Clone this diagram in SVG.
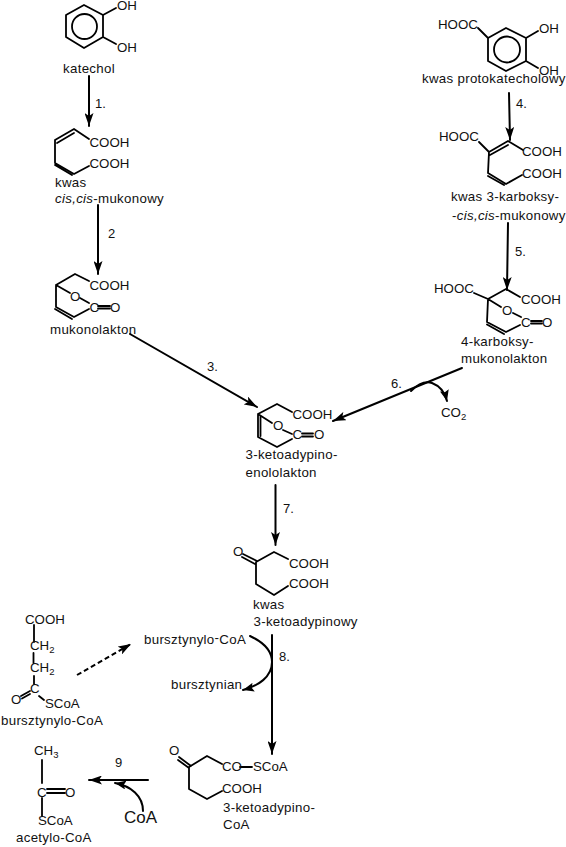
<svg xmlns="http://www.w3.org/2000/svg" width="566" height="847" viewBox="0 0 566 847">
<style>
text{font-family:"Liberation Sans",Arial,Helvetica,sans-serif;font-size:13.3px;fill:#111}
.l{letter-spacing:.3px}
.n{font-size:13px}
.s{font-size:9.5px}
.b{fill:none;stroke:#000;stroke-width:1.8;stroke-linecap:round;stroke-linejoin:round}
.a{fill:none;stroke:#000;stroke-width:2;stroke-linecap:round}
.d{stroke-dasharray:5 3;stroke-linecap:butt}
</style>
<defs>
<marker id="h" markerUnits="userSpaceOnUse" markerWidth="14" markerHeight="9" refX="13" refY="4.500" orient="auto" viewBox="0 0 14 9"><path d="M0,0L13,4.500L0,9L3,4.500Z" fill="#000"/></marker>
<marker id="t" markerUnits="userSpaceOnUse" markerWidth="12" markerHeight="9" refX="11" refY="4.500" orient="auto" viewBox="0 0 12 9"><path d="M0,0L11,4.500L0,9L2,4.500Z" fill="#000"/></marker>
</defs>
<g id="katechol">
<path class="b" d="M84,5L103,15V37L84,48L66,37V15ZM103,15L116,8M103,37L116,44"/><circle class="b" cx="84.500" cy="26.500" r="12.500"/>
<text x="117" y="9.700">OH</text><text x="117" y="52">OH</text><text class="l" x="63" y="73">katechol</text>
</g>
<g id="mukonowy">
<path class="b" d="M55,140L74,129L89,139M57,143L74,133M55,140V163L74,174L89,166M55,165L72,175"/>
<text x="89.500" y="147">COOH</text><text x="89.500" y="168">COOH</text>
<text class="l" x="55" y="187">kwas</text><text class="l" x="55" y="203"><tspan font-style="italic">cis,cis</tspan>-mukonowy</text>
</g>
<g id="mukonolakton">
<path class="b" d="M89,281L75,274L56,285V307L74,317L89,309M55,309L72,319M56,285L70,293M80,298L89,303M98,306H110M98,308.500H110"/>
<text x="89.500" y="290">COOH</text><text x="70" y="301">O</text><text x="89.500" y="312">C</text><text x="110" y="312">O</text>
<text class="l" x="50" y="334">mukonolakton</text>
</g>
<g id="protokatechowy">
<path class="b" d="M506,28L526,38V61L506,71L488,61V38ZM478,28L488,38M526,38L538,31M526,61L538,68"/><circle class="b" cx="507" cy="49.500" r="13"/>
<text x="438" y="29">HOOC</text><text x="539" y="33">OH</text><text x="539" y="75">OH</text>
<text class="l" x="422" y="83">kwas protokatecholowy</text>
</g>
<g id="karboksymukonowy">
<path class="b" d="M479,142L489,152L508,141L523,150M490,155L508,145M489,152L488,173L506,184L522,175M488,176L504,185"/>
<text x="439" y="141">HOOC</text><text x="522" y="156">COOH</text><text x="522" y="178">COOH</text>
<text class="l" x="451" y="201">kwas 3-karboksy-</text><text class="l" x="452" y="220">-<tspan font-style="italic">cis,cis</tspan>-mukonowy</text>
</g>
<g id="karboksymukonolakton">
<path class="b" d="M474,293L488,299L506,289L520,297M488,299L487,322L506,332L520,325M487,324.500L504,334M488,299L501,307M513,313L521,317M531,321H542M531,323.500H542"/>
<text x="434" y="293">HOOC</text><text x="521" y="304">COOH</text><text x="502" y="315">O</text><text x="521" y="327">C</text><text x="542" y="327">O</text>
<text class="l" x="461" y="346">4-karboksy-</text><text class="l" x="461" y="363">mukonolakton</text>
</g>
<g id="co2"><text x="441" y="417">CO<tspan class="s" dy="3">2</tspan></text></g>
<g id="ketoadypinoenololakton">
<path class="b" d="M292,412L277,404L258,414V437L277,447L292,439M260.500,416V436M258,414L272,423M283,430L292,434M302,433.500H313M302,436.500H313"/>
<text x="292.500" y="419">COOH</text><text x="273" y="430">O</text><text x="292.500" y="439">C</text><text x="314" y="439">O</text>
<text class="l" x="245.500" y="459">3-ketoadypino-</text><text class="l" x="245.500" y="477">enololakton</text>
</g>
<g id="ketoadypinowy">
<path class="b" d="M243,554L257,561M242,557L255,564M288,559L274,552L256,562V584L274,595L288,586"/>
<text x="233" y="556">O</text><text x="289" y="568">COOH</text><text x="289" y="588">COOH</text>
<text class="l" x="253" y="609">kwas</text><text class="l" x="253.500" y="626">3-ketoadypinowy</text>
</g>
<g id="bursztynyloCoA1">
<path class="b" d="M34,625V642M33.500,653V663M34,676V684M21,696L30,691M22,698.500L30,694M39,696L44,700"/>
<text x="25" y="624">COOH</text><text x="30" y="650">CH<tspan class="s" dy="3">2</tspan></text><text x="30" y="672">CH<tspan class="s" dy="3">2</tspan></text>
<text x="30" y="693">C</text><text x="11" y="704">O</text><text x="45" y="708">SCoA</text>
<text class="l" x="1" y="725">bursztynylo-CoA</text>
</g>
<g id="bursztynyloCoA2"><text class="l" x="144" y="644">bursztynylo<tspan dy="-2">-</tspan><tspan dy="2">CoA</tspan></text></g>
<g id="bursztynian"><text class="l" x="171" y="689">bursztynian</text></g>
<g id="ketoadypinoCoA">
<path class="b" d="M179,757L191,766M178,760L189,768M222,764L207,756L189,767V789L207,799L222,791M240,767H252"/>
<text x="169" y="755">O</text><text x="222" y="771">CO</text><text x="253" y="771">SCoA</text><text x="222" y="793">COOH</text>
<text class="l" x="223" y="812">3-ketoadypino-</text><text class="l" x="223" y="829">CoA</text>
</g>
<g id="acetyloCoA">
<path class="b" d="M42,760V783M42,798V816M47,789H65M47,793H65"/>
<text x="34" y="755">CH<tspan class="s" dy="3">3</tspan></text><text x="37" y="797">C</text><text x="65" y="797">O</text><text x="38" y="825">SCoA</text>
<text class="l" x="16" y="842">acetylo-CoA</text>
</g>
<g id="coa"><text x="124" y="823" style="font-size:17px">CoA</text></g>
<g id="connectors">
<path class="a" marker-end="url(#h)" d="M89,76V126"/>
<path class="a" marker-end="url(#h)" d="M98,205V274"/>
<path class="a" marker-end="url(#h)" d="M130,334L257,407"/>
<path class="a" marker-end="url(#h)" d="M509,93L510,140"/>
<path class="a" marker-end="url(#h)" d="M508,223L507,290"/>
<path class="a" marker-end="url(#h)" d="M462,368L333,421"/>
<path class="a" marker-end="url(#t)" d="M411,391C418,384 426,381 432,383C440,386 445,393 447,401"/>
<path class="a" marker-end="url(#h)" d="M275.500,485V545"/>
<path class="a" marker-end="url(#h)" d="M272,635V754"/>
<path class="a" marker-end="url(#t)" d="M250,636C263,642 272,651 272,662C272,677 258,686 243,690"/>
<path class="a d" marker-end="url(#h)" d="M77,675L131,644"/>
<path class="a" marker-end="url(#h)" d="M148,780H89"/>
<path class="a" marker-end="url(#t)" d="M143,811C143,796 131,786 115,783"/>
</g>
<g id="step-labels">
<text class="n" x="95" y="108">1.</text><text class="n" x="108" y="238">2</text><text class="n" x="207" y="371">3.</text>
<text class="n" x="516" y="108">4.</text><text class="n" x="515" y="256">5.</text><text class="n" x="391" y="388">6.</text>
<text class="n" x="283" y="513">7.</text><text class="n" x="279" y="661">8.</text><text class="n" x="115" y="767">9</text>
</g>
</svg>
